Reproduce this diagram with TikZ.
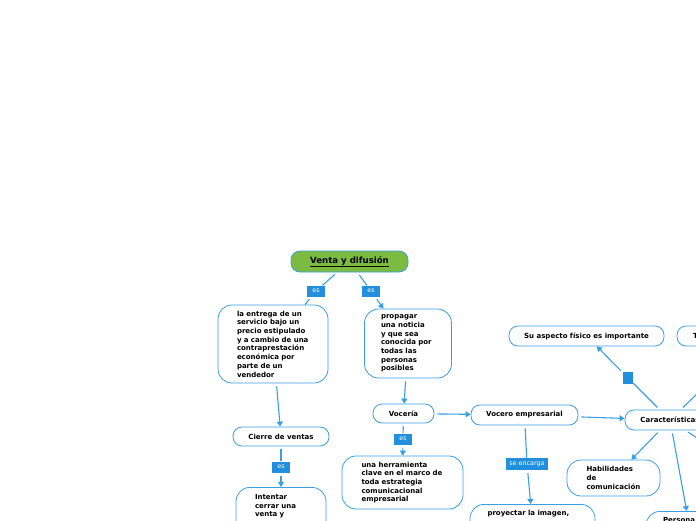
\documentclass[tikz,border=0pt]{standalone}
\usepackage{fontspec}
\setmainfont{DejaVu Sans}
\usetikzlibrary{arrows.meta}
\definecolor{mapblue}{RGB}{58,158,224}
\definecolor{tagblue}{RGB}{33,143,221}
\definecolor{rootgreen}{RGB}{124,187,66}

\begin{document}
\begin{tikzpicture}[x=1pt,y=-1pt,
    idea/.style={draw=mapblue,line width=0.8pt,rounded corners=9pt,fill=white,
      font=\fontsize{7}{8.7}\selectfont\bfseries,inner sep=0pt},
    bubble/.style={idea,rounded corners=14pt,align=left},
    tag/.style={fill=tagblue,text=white,font=\fontsize{6.4}{7}\selectfont,
      minimum width=18pt,minimum height=11pt,inner xsep=4pt,inner ysep=0pt},
    link/.style={draw=mapblue,line width=1.1pt,shorten <=3pt},
    go/.style={link,-{Triangle[width=6pt,length=5pt]}}]

    \useasboundingbox (0,0) rectangle (696,520);
    \clip (0,0) rectangle (696,520);

    \node[idea,fill=rootgreen,minimum width=117pt,minimum height=21pt,
      font=\fontsize{8.6}{10}\selectfont\bfseries] (venta) at (349.5,261.5) {\underline{Venta y difusión}};
    \node[bubble,minimum width=110pt,minimum height=78pt,text width=72pt] (entrega) at (273,344)
      {la entrega de un\\servicio bajo un\\precio estipulado\\y a cambio de una\\contraprestación\\económica por\\parte de un\\vendedor};
    \node[bubble,minimum width=87pt,minimum height=69pt,text width=54pt] (noticia) at (408,343.5)
      {propagar\\una noticia\\y que sea\\conocida por\\todas las\\personas\\posibles};
    \node[idea,minimum width=96pt,minimum height=19pt] (cierre) at (281,436.5) {Cierre de ventas};
    \node[bubble,anchor=north,minimum width=90pt,text width=52pt,inner ysep=7pt,text depth=30pt] (intentar) at (281,487)
      {Intentar\\cerrar una\\venta y};
    \node[idea,minimum width=61pt,minimum height=19pt] (voceria) at (403.5,413.5) {Vocería};
    \node[bubble,minimum width=121pt,minimum height=53pt,text width=82pt] (herramienta) at (402.5,482.5)
      {una herramienta\\clave en el marco de\\toda estrategia\\comunicacional\\empresarial};
    \node[idea,minimum width=107pt,minimum height=20pt] (vocero) at (524.5,415) {Vocero empresarial};
    \node[bubble,anchor=north,minimum width=125pt,text width=90pt,inner ysep=6pt,text depth=20pt] (proyectar) at (532.5,504)
      {proyectar la imagen,};
    \node[idea,minimum width=90pt,minimum height=20pt] (rasgos) at (670,420) {Características};
    \node[idea,minimum width=155pt,minimum height=20pt] (aspecto) at (586.5,336) {Su aspecto físico es importante};
    \node[idea,align=left,minimum width=160pt,minimum height=20pt,text width=128pt] (tono) at (757,336) {T};
    \node[bubble,minimum width=93pt,minimum height=36pt,text width=54pt] (habilidades) at (613.5,478)
      {Habilidades\\de\\comunicación};
    \node[bubble,anchor=north,minimum width=92pt,text width=58pt,inner ysep=6pt,text depth=40pt] (persona) at (692,511) {Persona};
    \coordinate (fuera) at (760,480);

    % etiquetas
    \node[tag] (es1) at (316,291) {es};
    \node[tag] (es2) at (371,291) {es};
    \node[tag] (es3) at (281,467) {es};
    \node[tag] (es4) at (403,439) {es};
    \node[tag,minimum height=12pt,inner xsep=3pt] (encarga) at (527,464) {se encarga};
    \node[tag,minimum width=10pt,minimum height=12pt,inner xsep=0pt] (marca) at (628,378) {};

    \path[link] (venta) -- (es1);
    \path[link] (es1) -- (entrega);
    \path[link] (venta) -- (es2);
    \path[go] (es2) -- (noticia);
    \path[go] (entrega) -- (cierre);
    \path[link] (cierre) -- (es3);
    \path[go] (es3) -- (intentar);
    \path[go] (noticia) -- (voceria);
    \path[link] (voceria) -- (es4);
    \path[go] (es4) -- (herramienta);
    \path[go] (voceria) -- (vocero);
    \path[link] (vocero) -- (encarga);
    \path[go] (encarga) -- (proyectar);
    \path[go] (vocero) -- (rasgos);
    \path[link] (rasgos) -- (marca);
    \path[go] (marca) -- (aspecto);
    \path[go] (rasgos) -- (tono);
    \path[go] (rasgos) -- (habilidades);
    \path[go] (rasgos) -- (persona);
    \path[link] (rasgos) -- (fuera);
\end{tikzpicture}
\end{document}
